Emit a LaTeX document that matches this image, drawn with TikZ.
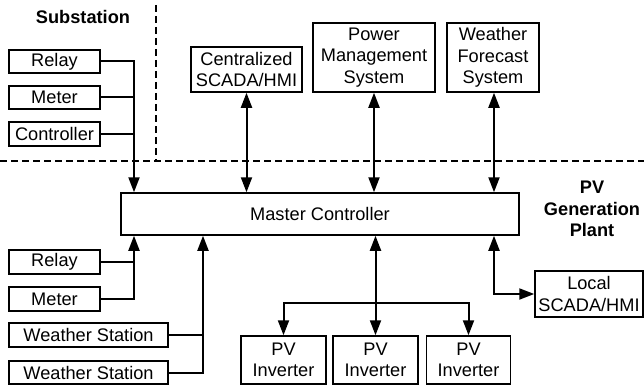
\documentclass[tikz,border=0pt]{standalone}
\usepackage{fontspec}
\setmainfont{Liberation Sans}
\usetikzlibrary{arrows.meta}
\begin{document}
\begin{tikzpicture}[x=1pt,y=-1pt,
  font=\fontsize{18.2}{21.5}\selectfont,
  box/.style={draw,line width=1.5pt,inner sep=0pt,align=center},
  conn/.style={line width=2pt},
  arr/.style={conn,-{Triangle[length=15pt,width=11pt]}},
  darr/.style={conn,{Triangle[length=15pt,width=11pt]}-{Triangle[length=15pt,width=11pt]}},
  sep/.style={line width=1.5pt,dash pattern=on 7pt off 4pt},
  lbl/.style={font=\fontsize{18.2}{21.5}\selectfont\bfseries,align=center}]
\useasboundingbox (0,0) rectangle (644,385);
% region separators
\coordinate (hl) at (0,161);
\coordinate (hr) at (644,161);
\coordinate (vt) at (156,5);
\coordinate (vb) at (156,161);
\draw[sep] (hl) -- (hr);
\draw[sep] (vt) -- (vb);
\node[lbl] (sub) at (83,17) {Substation};
\node[lbl] (pv) at (592,209) {PV\\Generation\\Plant};
% boxes
\node[box,minimum width=91pt,minimum height=23pt] (relay1) at (54.5,61.5) {Relay};
\node[box,minimum width=91pt,minimum height=23pt] (meter1) at (54.5,97.5) {Meter};
\node[box,minimum width=91pt,minimum height=24pt] (ctrl1) at (54.5,134) {Controller};
\node[box,minimum width=91pt,minimum height=24pt] (relay2) at (54.5,262) {Relay};
\node[box,minimum width=91pt,minimum height=24pt] (meter2) at (54.5,299) {Meter};
\node[box,minimum width=159pt,minimum height=24pt] (ws1) at (88.5,335) {Weather Station};
\node[box,minimum width=159pt,minimum height=23pt] (ws2) at (88.5,372.5) {Weather Station};
\node[box,minimum width=111pt,minimum height=45pt] (csc) at (246.5,69.5) {Centralized\\SCADA/HMI};
\node[box,minimum width=122pt,minimum height=69pt] (pms) at (374,57.5) {Power\\Management\\System};
\node[box,minimum width=92pt,minimum height=69pt] (wfs) at (493,57.5) {Weather\\Forecast\\System};
\node[box,minimum width=398pt,minimum height=42pt] (master) at (320,214) {Master Controller};
\node[box,minimum width=85pt,minimum height=48pt] (inv1) at (283.5,360) {PV\\Inverter};
\node[box,minimum width=85pt,minimum height=48pt] (inv2) at (375.5,360) {PV\\Inverter};
\node[box,minimum width=84pt,minimum height=48pt] (inv3) at (468.5,360) {PV\\Inverter};
\node[box,minimum width=108pt,minimum height=46pt] (local) at (589,294) {Local\\SCADA/HMI};
% bus coordinates
\coordinate (busA) at (134,0);
\coordinate (busB) at (203,0);
\coordinate (busC) at (494,0);
\coordinate (invbus) at (0,303);
% substation devices
\draw[arr] (relay1.east) -| (busA |- master.north);
\draw[conn] (meter1.east) -- (meter1.east -| busA);
\draw[conn] (ctrl1.east) -- (ctrl1.east -| busA);
% plant devices
\draw[arr] (meter2.east) -| (busA |- master.south);
\draw[conn] (relay2.east) -- (relay2.east -| busA);
\draw[arr] (ws2.east) -| (busB |- master.south);
\draw[conn] (ws1.east) -- (ws1.east -| busB);
% upper systems
\draw[darr] (csc.south) -- (csc.south |- master.north);
\draw[darr] (pms.south) -- (pms.south |- master.north);
\draw[darr] (busC |- wfs.south) -- (busC |- master.north);
% inverters
\draw[darr] (inv2.north |- master.south) -- (inv2.north);
\draw[arr] (inv2.north |- invbus) -| (inv1.north);
\draw[arr] (inv2.north |- invbus) -| (inv3.north);
% local SCADA
\draw[darr] (busC |- master.south) |- (local.west);
\end{tikzpicture}
\end{document}
